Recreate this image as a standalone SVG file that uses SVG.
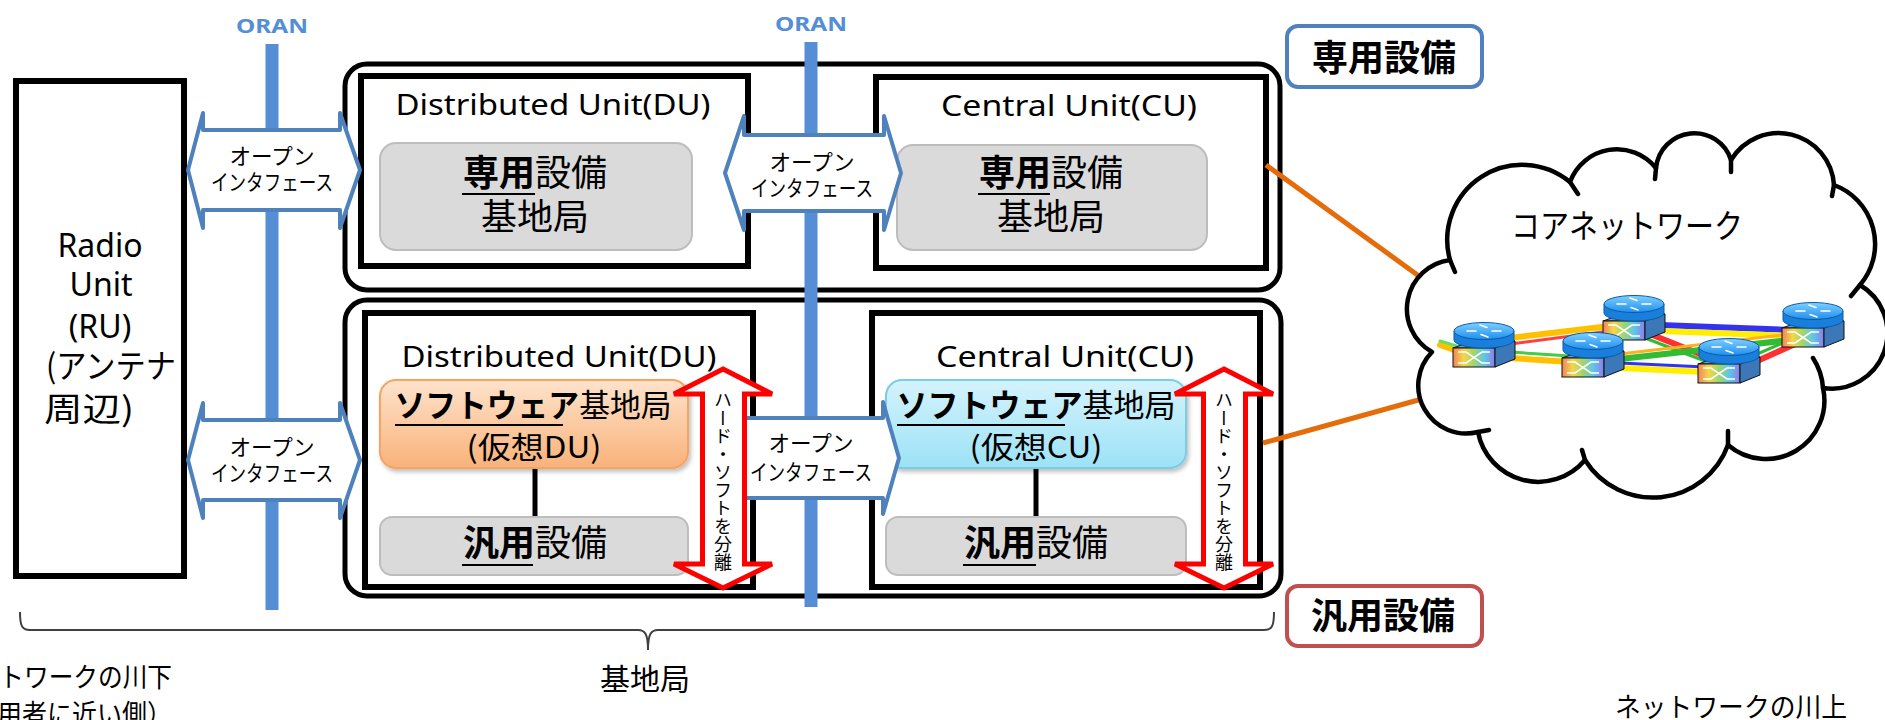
<svg xmlns="http://www.w3.org/2000/svg" width="1885" height="720" viewBox="0 0 1885 720">
  <style>
    .t { font-family: "Noto Sans", "Noto Sans CJK JP", sans-serif; fill: #000; }
    .jp { font-family: "Noto Sans CJK JP", "Noto Sans", sans-serif; fill: #000; }
    .b { font-weight: 700; }
    .group { fill: #fff; stroke: #000; stroke-width: 5; }
    .unit { fill: #fff; stroke: #000; stroke-width: 6; }
    .equip { fill: #DADADA; stroke: #BDBDBD; stroke-width: 2; }
    .oif { fill: #fff; stroke: #4F81BD; stroke-width: 4; stroke-linejoin: round; }
    .sep { fill: #fff; stroke: #FF0000; stroke-width: 5; stroke-linejoin: miter; }
    .oran { stroke: #558ED5; stroke-width: 13; }
    .ul { stroke: #000; stroke-width: 2; }
    .link { stroke: #E46C0A; stroke-width: 5; }
    .stem { stroke: #000; stroke-width: 5; }
    .cloud { fill: #fff; stroke: #000; stroke-width: 4.5; stroke-linejoin: round; }
    .tick { fill: none; stroke: #000; stroke-width: 4.5; stroke-linecap: round; }
    .net-thick { stroke-width: 6; stroke-linecap: round; }
    .net-thin { stroke-width: 3; stroke-linecap: round; }
  </style>
  <defs>
    <linearGradient id="gSoftDU" x1="0" y1="0" x2="0" y2="1">
      <stop offset="0" stop-color="#FEE3CC"/>
      <stop offset="1" stop-color="#F9B27A"/>
    </linearGradient>
    <linearGradient id="gSoftCU" x1="0" y1="0" x2="0" y2="1">
      <stop offset="0" stop-color="#D4F3FC"/>
      <stop offset="1" stop-color="#9CE2F6"/>
    </linearGradient>
    <filter id="shadow" x="-10%" y="-10%" width="130%" height="140%">
      <feDropShadow dx="2" dy="3" stdDeviation="2" flood-color="#000" flood-opacity="0.25"/>
    </filter>
    <linearGradient id="rtFace" x1="0" y1="0" x2="1" y2="0">
      <stop offset="0" stop-color="#F0845A"/>
      <stop offset="0.25" stop-color="#F4D64A"/>
      <stop offset="0.5" stop-color="#9ED66E"/>
      <stop offset="0.75" stop-color="#5EC6EA"/>
      <stop offset="1" stop-color="#8C7CEB"/>
    </linearGradient>
    <linearGradient id="rtTop" x1="0" y1="0" x2="0" y2="1">
      <stop offset="0" stop-color="#7FD0FF"/>
      <stop offset="1" stop-color="#1E8FEF"/>
    </linearGradient>
    <!-- router clip-art, origin at top-left of the front face -->
    <g id="router">
      <polygon points="0,0 20,-7 62,-7 42,0" fill="#6FA0D8" stroke="#111" stroke-width="1"/>
      <rect x="0" y="0" width="42" height="19" fill="url(#rtFace)" stroke="#111" stroke-width="1"/>
      <path d="M5,4 H13 L29,15 H37 M5,15 H13 L29,4 H37" fill="none" stroke="#fff" stroke-width="1.6"/>
      <polygon points="42,0 62,-7 62,11 42,19" fill="#3C78B8" stroke="#111" stroke-width="1"/>
      <path d="M1,-17 V-8 A30,8 0 0 0 61,-8 V-17 Z" fill="#1A7FDA" stroke="#0B5BAA" stroke-width="1"/>
      <ellipse cx="31" cy="-17" rx="30" ry="8.5" fill="url(#rtTop)" stroke="#0B5BAA" stroke-width="1"/>
      <path d="M14,-17 H23 M39,-17 H48 M27,-23 L34,-20.5 M28,-13.5 L35,-11" fill="none" stroke="#fff" stroke-width="1.6" stroke-linecap="round"/>
    </g>
  </defs>

  <rect width="1885" height="720" fill="#fff"/>

  <!-- enclosures: dedicated equipment (top) and general-purpose equipment (bottom) -->
  <g id="dedicated-group">
    <rect class="group" x="345" y="64" width="935" height="226" rx="22"/>
  </g>
  <g id="generic-group">
    <rect class="group" x="345" y="300" width="936" height="296" rx="22"/>
  </g>

  <!-- Radio Unit -->
  <g id="ru">
    <rect class="unit" x="16" y="81" width="168" height="495"/>
    <text class="t" x="100" y="257" font-size="32" text-anchor="middle">Radio</text>
    <text class="t" x="101" y="296" font-size="32" text-anchor="middle">Unit</text>
    <text class="t" x="100" y="338" font-size="32" text-anchor="middle">(RU)</text>
    <text class="jp" x="46" y="378" font-size="33" textLength="130" lengthAdjust="spacingAndGlyphs">(アンテナ</text>
    <text class="jp" x="44" y="421" font-size="33" textLength="90" lengthAdjust="spacingAndGlyphs">周辺)</text>
  </g>

  <!-- dedicated DU -->
  <g id="du-dedicated">
    <rect class="unit" x="361" y="76" width="387" height="190"/>
    <text class="t" x="553" y="115" font-size="29" text-anchor="middle" textLength="315" lengthAdjust="spacingAndGlyphs">Distributed Unit(DU)</text>
    <rect class="equip" x="380" y="143" width="312" height="107" rx="16"/>
    <text class="jp" x="535" y="186" font-size="36" text-anchor="middle"><tspan class="b">専用</tspan>設備</text>
    <line class="ul" x1="462" y1="194" x2="535" y2="194"/>
    <text class="jp" x="535" y="230" font-size="36" text-anchor="middle">基地局</text>
  </g>

  <!-- dedicated CU -->
  <g id="cu-dedicated">
    <rect class="unit" x="876" y="77" width="390" height="191"/>
    <text class="t" x="1069" y="116" font-size="29" text-anchor="middle" textLength="256" lengthAdjust="spacingAndGlyphs">Central Unit(CU)</text>
    <rect class="equip" x="897" y="145" width="310" height="105" rx="16"/>
    <text class="jp" x="1051" y="186" font-size="36" text-anchor="middle"><tspan class="b">専用</tspan>設備</text>
    <line class="ul" x1="978" y1="194" x2="1050" y2="194"/>
    <text class="jp" x="1051" y="230" font-size="36" text-anchor="middle">基地局</text>
  </g>

  <!-- virtualised DU on general-purpose hardware -->
  <g id="du-generic">
    <rect class="unit" x="365" y="313" width="388" height="274"/>
    <text class="t" x="559" y="367" font-size="29" text-anchor="middle" textLength="315" lengthAdjust="spacingAndGlyphs">Distributed Unit(DU)</text>
    <line class="stem" x1="535" y1="466" x2="535" y2="518"/>
    <rect x="380" y="380" width="308" height="88" rx="16" fill="url(#gSoftDU)" stroke="#F6A462" stroke-width="2" filter="url(#shadow)"/>
    <text class="jp" x="533" y="417" font-size="32" text-anchor="middle" textLength="277" lengthAdjust="spacingAndGlyphs"><tspan class="b">ソフトウェア</tspan>基地局</text>
    <line class="ul" x1="395" y1="425" x2="563" y2="425"/>
    <text class="jp" x="534" y="458" font-size="30" text-anchor="middle" textLength="135" lengthAdjust="spacingAndGlyphs">(仮想DU)</text>
    <rect class="equip" x="380" y="517" width="308" height="58" rx="12"/>
    <text class="jp" x="535" y="556" font-size="36" text-anchor="middle"><tspan class="b">汎用</tspan>設備</text>
    <line class="ul" x1="462" y1="565" x2="533" y2="565"/>
  </g>

  <!-- virtualised CU on general-purpose hardware -->
  <g id="cu-generic">
    <rect class="unit" x="872" y="313" width="388" height="274"/>
    <text class="t" x="1065" y="367" font-size="29" text-anchor="middle" textLength="258" lengthAdjust="spacingAndGlyphs">Central Unit(CU)</text>
    <line class="stem" x1="1036" y1="466" x2="1036" y2="518"/>
    <rect x="886" y="380" width="300" height="88" rx="16" fill="url(#gSoftCU)" stroke="#7ACDE2" stroke-width="2" filter="url(#shadow)"/>
    <text class="jp" x="1036" y="417" font-size="32" text-anchor="middle" textLength="279" lengthAdjust="spacingAndGlyphs"><tspan class="b">ソフトウェア</tspan>基地局</text>
    <line class="ul" x1="897" y1="425" x2="1065" y2="425"/>
    <text class="jp" x="1036" y="458" font-size="30" text-anchor="middle" textLength="133" lengthAdjust="spacingAndGlyphs">(仮想CU)</text>
    <rect class="equip" x="886" y="517" width="300" height="58" rx="12"/>
    <text class="jp" x="1036" y="556" font-size="36" text-anchor="middle"><tspan class="b">汎用</tspan>設備</text>
    <line class="ul" x1="963" y1="565" x2="1036" y2="565"/>
  </g>

  <!-- connectors: ORAN buses, backhaul links and the base-station brace -->
  <g id="connectors">
    <line class="oran" x1="272" y1="44" x2="272" y2="610"/>
    <line class="oran" x1="811" y1="42" x2="811" y2="607"/>
    <line class="link" x1="1266" y1="165" x2="1434" y2="287"/>
    <line class="link" x1="1263" y1="443" x2="1422" y2="399"/>
    <path d="M20,612 C20,626 22,630 30,630 L638,630 C645,630 648,634 648,650 C648,634 651,630 658,630 L1264,630 C1272,630 1274,626 1274,612" fill="none" stroke="#404040" stroke-width="2"/>
  </g>

  <text class="t b" x="272" y="33" font-size="20" fill="#558ED5" style="fill:#558ED5" text-anchor="middle" textLength="72" lengthAdjust="spacingAndGlyphs">ORAN</text>
  <text class="t b" x="811" y="31" font-size="20" style="fill:#558ED5" text-anchor="middle" textLength="72" lengthAdjust="spacingAndGlyphs">ORAN</text>

  <!-- open interfaces -->
  <g id="oif-ru-du-dedicated">
    <polygon class="oif" points="188,170 203,113 203,130 340,130 340,113 360,170 340,228 340,210 203,210 203,228"/>
    <text class="jp" x="272" y="164" font-size="22" text-anchor="middle" textLength="85" lengthAdjust="spacingAndGlyphs">オープン</text>
    <text class="jp" x="272" y="190" font-size="22" text-anchor="middle" textLength="122" lengthAdjust="spacingAndGlyphs">インタフェース</text>
  </g>
  <g id="oif-ru-du-generic">
    <polygon class="oif" points="188,460 203,403 203,420 340,420 340,403 360,460 340,518 340,500 203,500 203,518"/>
    <text class="jp" x="272" y="455" font-size="22" text-anchor="middle" textLength="85" lengthAdjust="spacingAndGlyphs">オープン</text>
    <text class="jp" x="272" y="481" font-size="22" text-anchor="middle" textLength="122" lengthAdjust="spacingAndGlyphs">インタフェース</text>
  </g>
  <g id="oif-du-cu-dedicated">
    <polygon class="oif" points="725,173 744,116 744,135 884,135 884,116 901,173 884,230 884,211 744,211 744,230"/>
    <text class="jp" x="812" y="170" font-size="22" text-anchor="middle" textLength="85" lengthAdjust="spacingAndGlyphs">オープン</text>
    <text class="jp" x="812" y="196" font-size="22" text-anchor="middle" textLength="122" lengthAdjust="spacingAndGlyphs">インタフェース</text>
  </g>
  <g id="oif-du-cu-generic">
    <polygon class="oif" points="725,418 883,418 883,402 899,458 883,514 883,498 725,498"/>
    <text class="jp" x="811" y="451" font-size="22" text-anchor="middle" textLength="85" lengthAdjust="spacingAndGlyphs">オープン</text>
    <text class="jp" x="811" y="480" font-size="22" text-anchor="middle" textLength="122" lengthAdjust="spacingAndGlyphs">インタフェース</text>
  </g>

  <!-- hardware / software separation markers -->
  <g id="sep-du">
    <polygon class="sep" points="723,369 772,394 744.5,394 744.5,564 772,564 723,588 674,564 702.5,564 702.5,394 674,394"/>
    <text class="jp" x="723" y="481" font-size="18" text-anchor="middle" style="writing-mode: vertical-rl">ハード・ソフトを分離</text>
  </g>
  <g id="sep-cu">
    <polygon class="sep" points="1224,369 1273,394 1245.5,394 1245.5,564 1273,564 1224,588 1175,564 1203.5,564 1203.5,394 1175,394"/>
    <text class="jp" x="1224" y="481" font-size="18" text-anchor="middle" style="writing-mode: vertical-rl">ハード・ソフトを分離</text>
  </g>

  <!-- legend tags -->
  <g id="tag-dedicated">
    <rect x="1287" y="26" width="195" height="61" rx="11" fill="#fff" stroke="#4F81BD" stroke-width="4"/>
    <text class="jp b" x="1384" y="71" font-size="36" text-anchor="middle">専用設備</text>
  </g>
  <g id="tag-generic">
    <rect x="1287" y="586" width="195" height="60" rx="11" fill="#fff" stroke="#C0504D" stroke-width="4"/>
    <text class="jp b" x="1383" y="629" font-size="36" text-anchor="middle">汎用設備</text>
  </g>

  <!-- core network -->
  <g id="core">
    <path class="cloud" d="M1450,260 A75,75 0 0 1 1570,182 A50,50 0 0 1 1656,168 A38.5,38.5 0 0 1 1731,160 A55.5,55.5 0 0 1 1834,185 A63,63 0 0 1 1860,285 A55.7,55.7 0 0 1 1823,388 A58.4,58.4 0 0 1 1728,445 A80,80 0 0 1 1585,460 A61.2,61.2 0 0 1 1478,432 A47.9,47.9 0 0 1 1432,352 A49.4,49.4 0 0 1 1450,260 Z"/>
    <path class="tick" d="M1450,260 L1455,272 M1570,182 L1578,194 M1656,168 L1655,179 M1731,160 L1731,172 M1834,185 L1832,196 M1860,285 L1851,296 M1823,388 Q1822,372 1813,358 M1728,445 L1728,431 M1585,460 L1582,450 M1478,432 L1489,430"/>
    <text class="jp" x="1627" y="238" font-size="33" text-anchor="middle" textLength="232" lengthAdjust="spacingAndGlyphs">コアネットワーク</text>
    <g id="core-links">
      <line class="net-thick" x1="1440" y1="345" x2="1460" y2="352" stroke="#FFC000"/>
      <line class="net-thin" x1="1440" y1="341" x2="1460" y2="347" stroke="#66DD66"/>
      <line class="net-thick" x1="1510" y1="338" x2="1610" y2="326" stroke="#FFC000"/>
      <line class="net-thin" x1="1510" y1="344" x2="1610" y2="331" stroke="#FF4040"/>
      <line class="net-thick" x1="1510" y1="358" x2="1570" y2="362" stroke="#FFC000"/>
      <line class="net-thin" x1="1510" y1="352" x2="1570" y2="356" stroke="#44CC44"/>
      <line class="net-thick" x1="1660" y1="325" x2="1790" y2="330" stroke="#3333EE"/>
      <line class="net-thick" x1="1660" y1="331" x2="1790" y2="336" stroke="#FFEE00"/>
      <line class="net-thick" x1="1650" y1="334" x2="1715" y2="360" stroke="#FF3030"/>
      <line class="net-thin" x1="1645" y1="338" x2="1710" y2="363" stroke="#33BB33"/>
      <line class="net-thick" x1="1620" y1="359" x2="1790" y2="340" stroke="#33BB33"/>
      <line class="net-thin" x1="1620" y1="354" x2="1790" y2="334" stroke="#FFB020"/>
      <line class="net-thick" x1="1620" y1="368" x2="1705" y2="372" stroke="#FFEE00"/>
      <line class="net-thin" x1="1620" y1="363" x2="1705" y2="367" stroke="#3333EE"/>
      <line class="net-thick" x1="1755" y1="362" x2="1795" y2="344" stroke="#FF3030"/>
      <line class="net-thin" x1="1755" y1="355" x2="1792" y2="339" stroke="#33BB33"/>
    </g>
    <use href="#router" x="1603" y="321"/>
    <use href="#router" x="1782" y="328"/>
    <use href="#router" x="1453" y="348"/>
    <use href="#router" x="1562" y="358"/>
    <use href="#router" x="1698" y="364"/>
  </g>

  <!-- captions -->
  <text class="jp" x="645" y="690" font-size="30" text-anchor="middle">基地局</text>
  <text class="jp" x="172" y="687" font-size="27" text-anchor="end" textLength="222" lengthAdjust="spacingAndGlyphs">ネットワークの川下</text>
  <text class="jp" x="172" y="724" font-size="27" text-anchor="end" textLength="225" lengthAdjust="spacingAndGlyphs">（利用者に近い側）</text>
  <text class="jp" x="1731" y="717" font-size="27" text-anchor="middle" textLength="232" lengthAdjust="spacingAndGlyphs">ネットワークの川上</text>
</svg>
